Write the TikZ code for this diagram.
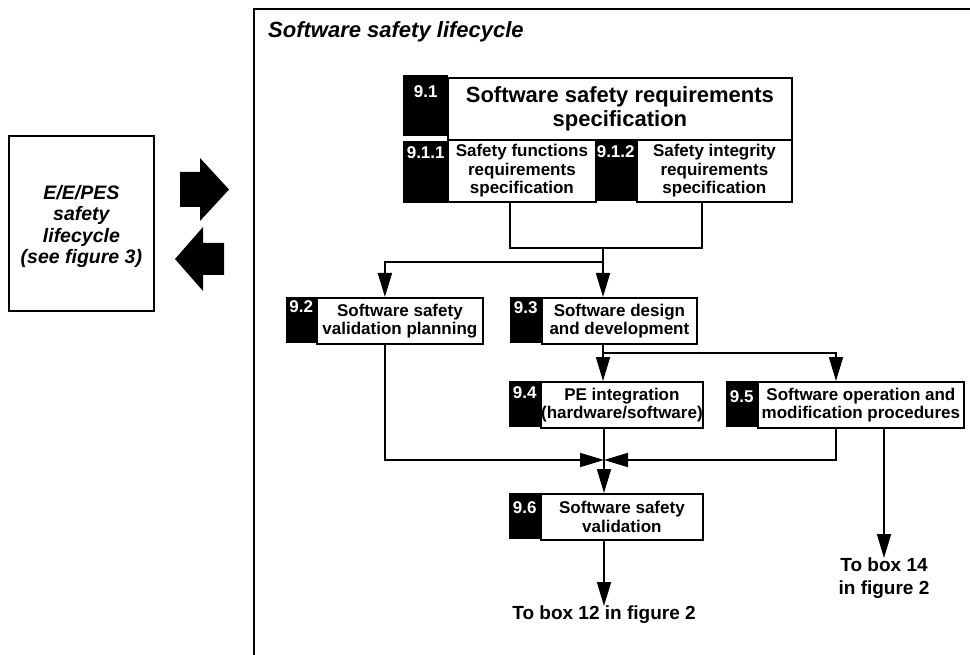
\documentclass[tikz,border=0pt]{standalone}
\usepackage{fontspec}
\setmainfont{Liberation Sans}
\usetikzlibrary{arrows.meta,calc}
\begin{document}
\begin{tikzpicture}[x=1pt,y=-1pt,
  txt/.style={font=\fontsize{17}{18.5}\selectfont\bfseries, align=center},
  wbox/.style={draw, line width=1.8pt, fill=white, inner sep=0pt, anchor=north west, txt},
  bblock/.style={fill=black, inner sep=0pt, anchor=north west},
  num/.style={text=white, font=\fontsize{17}{18}\selectfont\bfseries, inner sep=0pt, anchor=north},
  exitlabel/.style={inner sep=0pt, anchor=north, align=center, font=\fontsize{19}{23}\selectfont\bfseries},
  flow/.style={line width=1.8pt},
  arr/.style={flow, -{Triangle[length=24pt,width=14pt]}},
  bigarrow/.style={fill=black},
]
\useasboundingbox (0,0) rectangle (970,655);

% open frame of the software lifecycle
\draw[line width=2.2pt] (972,9) -- (254,9) -- (254,657);
\node[anchor=base west, inner sep=0pt, font=\fontsize{22}{24}\selectfont\bfseries\itshape] (title) at (268,38) {Software safety lifecycle};

% overall E/E/PES lifecycle box
\node[draw, line width=1.8pt, minimum width=145pt, minimum height=175pt, inner sep=0pt, anchor=north west] (eepes) at (8,135) {};
\node[inner sep=0pt, font=\fontsize{19.5}{21.5}\selectfont\bfseries\itshape, align=center] (eepestxt)
  at ([yshift=-3pt]eepes.center) {E/E/PES\\safety\\lifecycle\\(see figure 3)};

% exchange arrows
\fill[bigarrow] (180,172) -- (200,172) -- (200,158) -- (229,189.5) -- (200,221) -- (200,207) -- (180,207) -- cycle;
\fill[bigarrow] (224,243) -- (203,243) -- (203,227) -- (175,259) -- (203,291) -- (203,275) -- (224,275) -- cycle;

% 9.1
\node[bblock, minimum width=45pt, minimum height=61pt] (k91) at (403,75) {};
\node[num] (n91) at ([yshift=-10pt]k91.north) {9.1};
\node[wbox, minimum width=344pt, minimum height=62pt, font=\fontsize{22}{23.5}\selectfont\bfseries] (w91) at (447,77)
  {Software safety requirements\\specification};

% 9.1.1
\node[bblock, minimum width=45pt, minimum height=62pt] (k911) at (403,141) {};
\node[num] (n911) at ([yshift=-5pt]k911.north) {9.1.1};
\node[wbox, minimum width=148pt, minimum height=62pt] (w911) at (447,139)
  {Safety functions\\requirements\\specification};

% 9.1.2
\node[bblock, minimum width=41pt, minimum height=62pt] (k912) at (595,139) {};
\node[num] (n912) at ([yshift=-6pt]k912.north) {9.1.2};
\node[wbox, minimum width=155pt, minimum height=62pt] (w912) at (636,139)
  {Safety integrity\\requirements\\specification};

% 9.2
\node[bblock, minimum width=30pt, minimum height=46pt] (k92) at (286,297) {};
\node[num] (n92) at ([yshift=-3pt]k92.north) {9.2};
\node[wbox, minimum width=166pt, minimum height=46pt] (w92) at (316,297)
  {Software safety\\validation planning};

% 9.3
\node[bblock, minimum width=31pt, minimum height=46pt] (k93) at (510,297) {};
\node[num] (n93) at ([yshift=-4pt]k93.north) {9.3};
\node[wbox, minimum width=155pt, minimum height=46pt] (w93) at (541,297)
  {Software design\\and development};

% 9.4
\node[bblock, minimum width=31pt, minimum height=46pt] (k94) at (509,381) {};
\node[num] (n94) at ([yshift=-5pt]k94.north) {9.4};
\node[wbox, minimum width=162pt, minimum height=46pt] (w94) at (540,381)
  {PE integration\\(hardware/software)};

% 9.5
\node[bblock, minimum width=31pt, minimum height=46pt] (k95) at (726,381) {};
\node[num] (n95) at ([yshift=-9pt]k95.north) {9.5};
\node[wbox, minimum width=206pt, minimum height=46pt] (w95) at (757,381)
  {Software operation and\\modification procedures};

% 9.6
\node[bblock, minimum width=31pt, minimum height=46pt] (k96) at (509,493) {};
\node[num] (n96) at ([yshift=-8pt]k96.north) {9.6};
\node[wbox, minimum width=162pt, minimum height=46pt] (w96) at (540,493)
  {Software safety\\validation};

% exits to figure 2
\node[exitlabel] (to12) at (604,606) {To box 12 in figure 2};
\node[exitlabel] (to14) at (884,558) {To box 14\\in figure 2};

% junction points
\coordinate (o1) at (510,201);
\coordinate (o2) at (702,201);
\coordinate (j1) at (603,248);
\coordinate (s1) at (603,262);
\coordinate (c92) at ($(k92.north west)!0.5!(w92.north east)$);
\coordinate (s2) at (603,353);
\coordinate (c95) at (836,381);
\coordinate (m) at (604,460);
\coordinate (e96) at (884,427);

% connectors
\draw[flow] (o1) |- (j1) -| (o2);
\draw[arr] (j1) -- (j1 |- w93.north);
\draw[arr] (s1) -| (c92);
\draw[flow] (j1 |- w93.south) -- (s2);
\draw[arr] (s2) -- (s2 |- w94.north);
\draw[arr] (s2) -| (c95);
\draw[arr] (c92 |- w92.south) |- (m);
\draw[arr] (c95 |- w95.south) |- (m);
\draw[arr] (m |- w94.south) -- (m |- w96.north);
\draw[arr] (m |- w96.south) -- (to12.north);
\draw[arr] (e96) -- (to14.north);
\end{tikzpicture}
\end{document}
